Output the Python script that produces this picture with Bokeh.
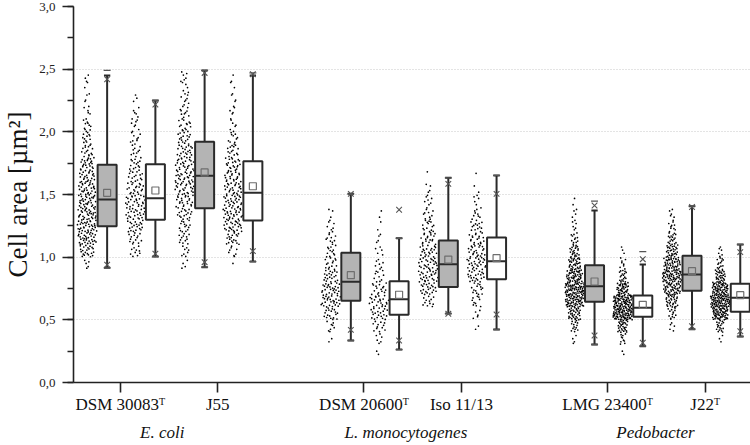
import numpy as np
from bokeh.plotting import figure
from bokeh.models import (FixedTicker, CustomJSTickFormatter, LinearAxis, Range1d,
                          SingleIntervalTicker, ColumnDataSource)
from bokeh.embed import file_html
from bokeh.resources import INLINE

# ---------------- data ----------------
strains = ["DSM 30083ᵀ", "J55", "DSM 20600ᵀ", "Iso 11/13", "LMG 23400ᵀ", "J22ᵀ"]
strain_pos = [1, 2, 3.5, 4.5, 6, 7]
groups = ["E. coli", "L. monocytogenes", "Pedobacter"]
group_pos = [1.43, 3.93, 6.49]
y_label = "Cell area [µm²]"

# 12 boxes: for each strain first the grey box, then the white box
box_q1 = [1.247, 1.298, 1.391, 1.293, 0.652, 0.540, 0.761, 0.824, 0.644, 0.524, 0.732, 0.564]
box_median = [1.460, 1.471, 1.649, 1.513, 0.803, 0.665, 0.944, 0.968, 0.768, 0.596, 0.862, 0.676]
box_q3 = [1.737, 1.742, 1.920, 1.766, 1.035, 0.808, 1.133, 1.157, 0.936, 0.694, 1.011, 0.787]
box_mean = [1.513, 1.532, 1.676, 1.566, 0.856, 0.700, 0.981, 0.992, 0.806, 0.620, 0.888, 0.697]
whisker_lo = [0.915, 1.005, 0.920, 0.965, 0.335, 0.263, 0.550, 0.423, 0.303, 0.290, 0.425, 0.367]
whisker_hi = [2.450, 2.250, 2.490, 2.450, 1.505, 1.151, 1.633, 1.652, 1.372, 0.941, 1.407, 1.101]
pct_1 = [0.940, 1.027, 0.960, 1.048, 0.420, 0.335, 0.548, 0.543, 0.375, 0.317, 0.449, 0.409]
pct_99 = [2.420, 2.218, 2.470, 2.460, 1.505, 1.378, 1.585, 1.505, 1.412, 0.984, 1.400, 1.040]
data_min = [0.915, 1.005, 0.920, 0.965, 0.335, 0.263, 0.550, 0.423, 0.303, 0.290, 0.425, 0.367]
data_max = [2.490, 2.250, 2.490, 2.470, 1.505, 1.151, 1.633, 1.652, 1.447, 1.045, 1.407, 1.101]

# individual cells: counts per 0.1 µm² bin, first bin starting at bin_start
bin_start = [0.9, 1.0, 0.9, 0.9, 0.3, 0.2, 0.6, 0.4, 0.3, 0.2, 0.4, 0.3]
bin_counts = [
    [5, 22, 32, 34, 32, 30, 28, 25, 22, 15, 12, 10, 5, 4, 3, 3],
    [10, 14, 20, 24, 24, 20, 16, 14, 10, 9, 7, 6, 3],
    [4, 8, 12, 14, 18, 22, 26, 26, 24, 20, 16, 14, 10, 8, 6, 6],
    [1, 8, 18, 26, 28, 26, 24, 22, 20, 14, 10, 6, 5, 4, 3, 2],
    [2, 8, 18, 28, 26, 20, 14, 12, 10, 7, 3],
    [2, 6, 12, 20, 22, 16, 10, 7, 5, 4, 2, 2],
    [12, 22, 26, 26, 22, 18, 14, 10, 7, 4, 1],
    [2, 5, 10, 14, 22, 26, 22, 18, 14, 9, 5, 2, 1],
    [4, 14, 34, 60, 66, 50, 34, 22, 12, 6, 4, 2],
    [2, 10, 30, 80, 76, 40, 18, 8, 3],
    [5, 14, 30, 48, 58, 46, 30, 18, 10, 5],
    [3, 18, 60, 80, 60, 30, 14, 6],
]

# ---------------- layout helpers ----------------
GREY_OFF, WHITE_OFF = -0.135, 0.36
BOX_W = 0.195
DOT_OFF = -0.205
CAP_W = 0.065


def halton(i, base):
    f, r = 1.0, 0.0
    while i > 0:
        f /= base
        r += f * (i % base)
        i //= base
    return r


box_x = []
box_fill = []
for pos in strain_pos:
    box_x += [pos + GREY_OFF, pos + WHITE_OFF]
    box_fill += ["#b4b4b4", "#ffffff"]

dot_x, dot_y = [], []
for b in range(len(box_x)):
    c = box_x[b] + DOT_OFF
    cnts = bin_counts[b]
    nmax = max(cnts)
    g = 0
    for j, n in enumerate(cnts):
        lo = bin_start[b] + 0.1 * j
        hw = 0.02 + 0.08 * n / nmax
        for k in range(n):
            g += 1
            dot_x.append(c + (2 * halton(g + 7 * b, 3) - 1) * hw)
            dot_y.append(lo + 0.1 * halton(k + 1 + j, 2))

FONT = "Times New Roman"

p = figure(width=750, height=445, output_backend="svg", toolbar_location=None,
           x_range=Range1d(0.52, 7.465), y_range=Range1d(0, 3.0),
           min_border_left=68, min_border_right=0, min_border_top=6, min_border_bottom=63,
           x_axis_type=None)
p.outline_line_color = None
p.background_fill_color = "white"

# y axis
yax = p.yaxis[0]
yax.ticker = SingleIntervalTicker(interval=0.5, num_minor_ticks=2)
yax.formatter = CustomJSTickFormatter(code="return tick.toFixed(1).replace('.', ',');")
yax.axis_label = y_label
yax.axis_label_text_font = FONT
yax.axis_label_text_font_size = "27px"
yax.axis_label_text_font_style = "normal"
yax.axis_label_text_color = "#111111"
yax.axis_label_standoff = 3
yax.major_label_text_font = FONT
yax.major_label_text_font_size = "13px"
yax.major_label_text_color = "#222222"
yax.major_label_standoff = 7
yax.major_tick_out = 11
yax.major_tick_in = 0
yax.minor_tick_out = 6
yax.minor_tick_in = 0
yax.axis_line_width = 1.6
yax.axis_line_color = "#222222"
yax.major_tick_line_width = 1.6
yax.minor_tick_line_width = 1.6
yax.major_tick_line_color = "#222222"
yax.minor_tick_line_color = "#222222"

p.ygrid.grid_line_color = "#c8c8c8"
p.ygrid.grid_line_dash = "1 2"
p.ygrid.grid_line_width = 1
p.xgrid.grid_line_color = None

# x axis with strain names
xax = LinearAxis(ticker=FixedTicker(ticks=strain_pos),
                 formatter=CustomJSTickFormatter(args=dict(pos=strain_pos, labels=strains), code="""
                    for (let i = 0; i < pos.length; i++) { if (Math.abs(pos[i] - tick) < 1e-6) return labels[i]; }
                    return '';"""))
xax.major_tick_out = 10
xax.major_tick_in = 0
xax.minor_tick_line_color = None
xax.major_label_text_font = FONT
xax.major_label_text_font_size = "17px"
xax.major_label_text_color = "#111111"
xax.major_label_standoff = 2
xax.axis_line_width = 1.6
xax.axis_line_color = "#222222"
xax.major_tick_line_width = 1.6
xax.major_tick_line_color = "#222222"
p.add_layout(xax, "below")

# second axis with the group names
gax = LinearAxis(ticker=FixedTicker(ticks=group_pos),
                 formatter=CustomJSTickFormatter(args=dict(pos=group_pos, labels=groups), code="""
                    for (let i = 0; i < pos.length; i++) { if (Math.abs(pos[i] - tick) < 1e-6) return labels[i]; }
                    return '';"""))
gax.axis_line_color = None
gax.major_tick_line_color = None
gax.minor_tick_line_color = None
gax.major_tick_out = 0
gax.major_tick_in = 0
gax.major_label_standoff = 6
gax.major_label_text_font = FONT
gax.major_label_text_font_size = "17px"
gax.major_label_text_font_style = "italic"
gax.major_label_text_color = "#111111"
p.add_layout(gax, "below")

# ---------------- glyphs ----------------
p.scatter(dot_x, dot_y, marker="circle", size=1.7, fill_color="black", line_color=None)

bs = ColumnDataSource(dict(
    x=box_x, q1=box_q1, med=box_median, q3=box_q3, mean=box_mean,
    wlo=whisker_lo, whi=whisker_hi, p1=pct_1, p99=pct_99,
    dmin=data_min, dmax=data_max, fill=box_fill,
    xl=[v - BOX_W / 2 for v in box_x], xr=[v + BOX_W / 2 for v in box_x],
    cl=[v - CAP_W / 2 for v in box_x], cr=[v + CAP_W / 2 for v in box_x],
))

LC = "#2a2a2a"
p.segment(x0="x", y0="wlo", x1="x", y1="q1", source=bs, line_color=LC, line_width=2)
p.segment(x0="x", y0="q3", x1="x", y1="whi", source=bs, line_color=LC, line_width=2)
p.segment(x0="cl", y0="wlo", x1="cr", y1="wlo", source=bs, line_color=LC, line_width=2)
p.segment(x0="cl", y0="whi", x1="cr", y1="whi", source=bs, line_color=LC, line_width=2)
p.vbar(x="x", width=BOX_W, bottom="q1", top="q3", source=bs, fill_color="fill",
       line_color=LC, line_width=2)
p.segment(x0="xl", y0="med", x1="xr", y1="med", source=bs, line_color=LC, line_width=2)
p.scatter(x="x", y="mean", source=bs, marker="square", size=7, fill_color=None,
          line_color="#6e6e6e", line_width=1.2)
p.scatter(x="x", y="p1", source=bs, marker="x", size=8, line_color="#555555", line_width=1.1)
p.scatter(x="x", y="p99", source=bs, marker="x", size=8, line_color="#555555", line_width=1.1)
p.scatter(x="x", y="dmin", source=bs, marker="dash", size=7, line_color="#555555", line_width=1.3)
p.scatter(x="x", y="dmax", source=bs, marker="dash", size=7, line_color="#555555", line_width=1.3)

open("out.html", "w").write(file_html(p, INLINE))
